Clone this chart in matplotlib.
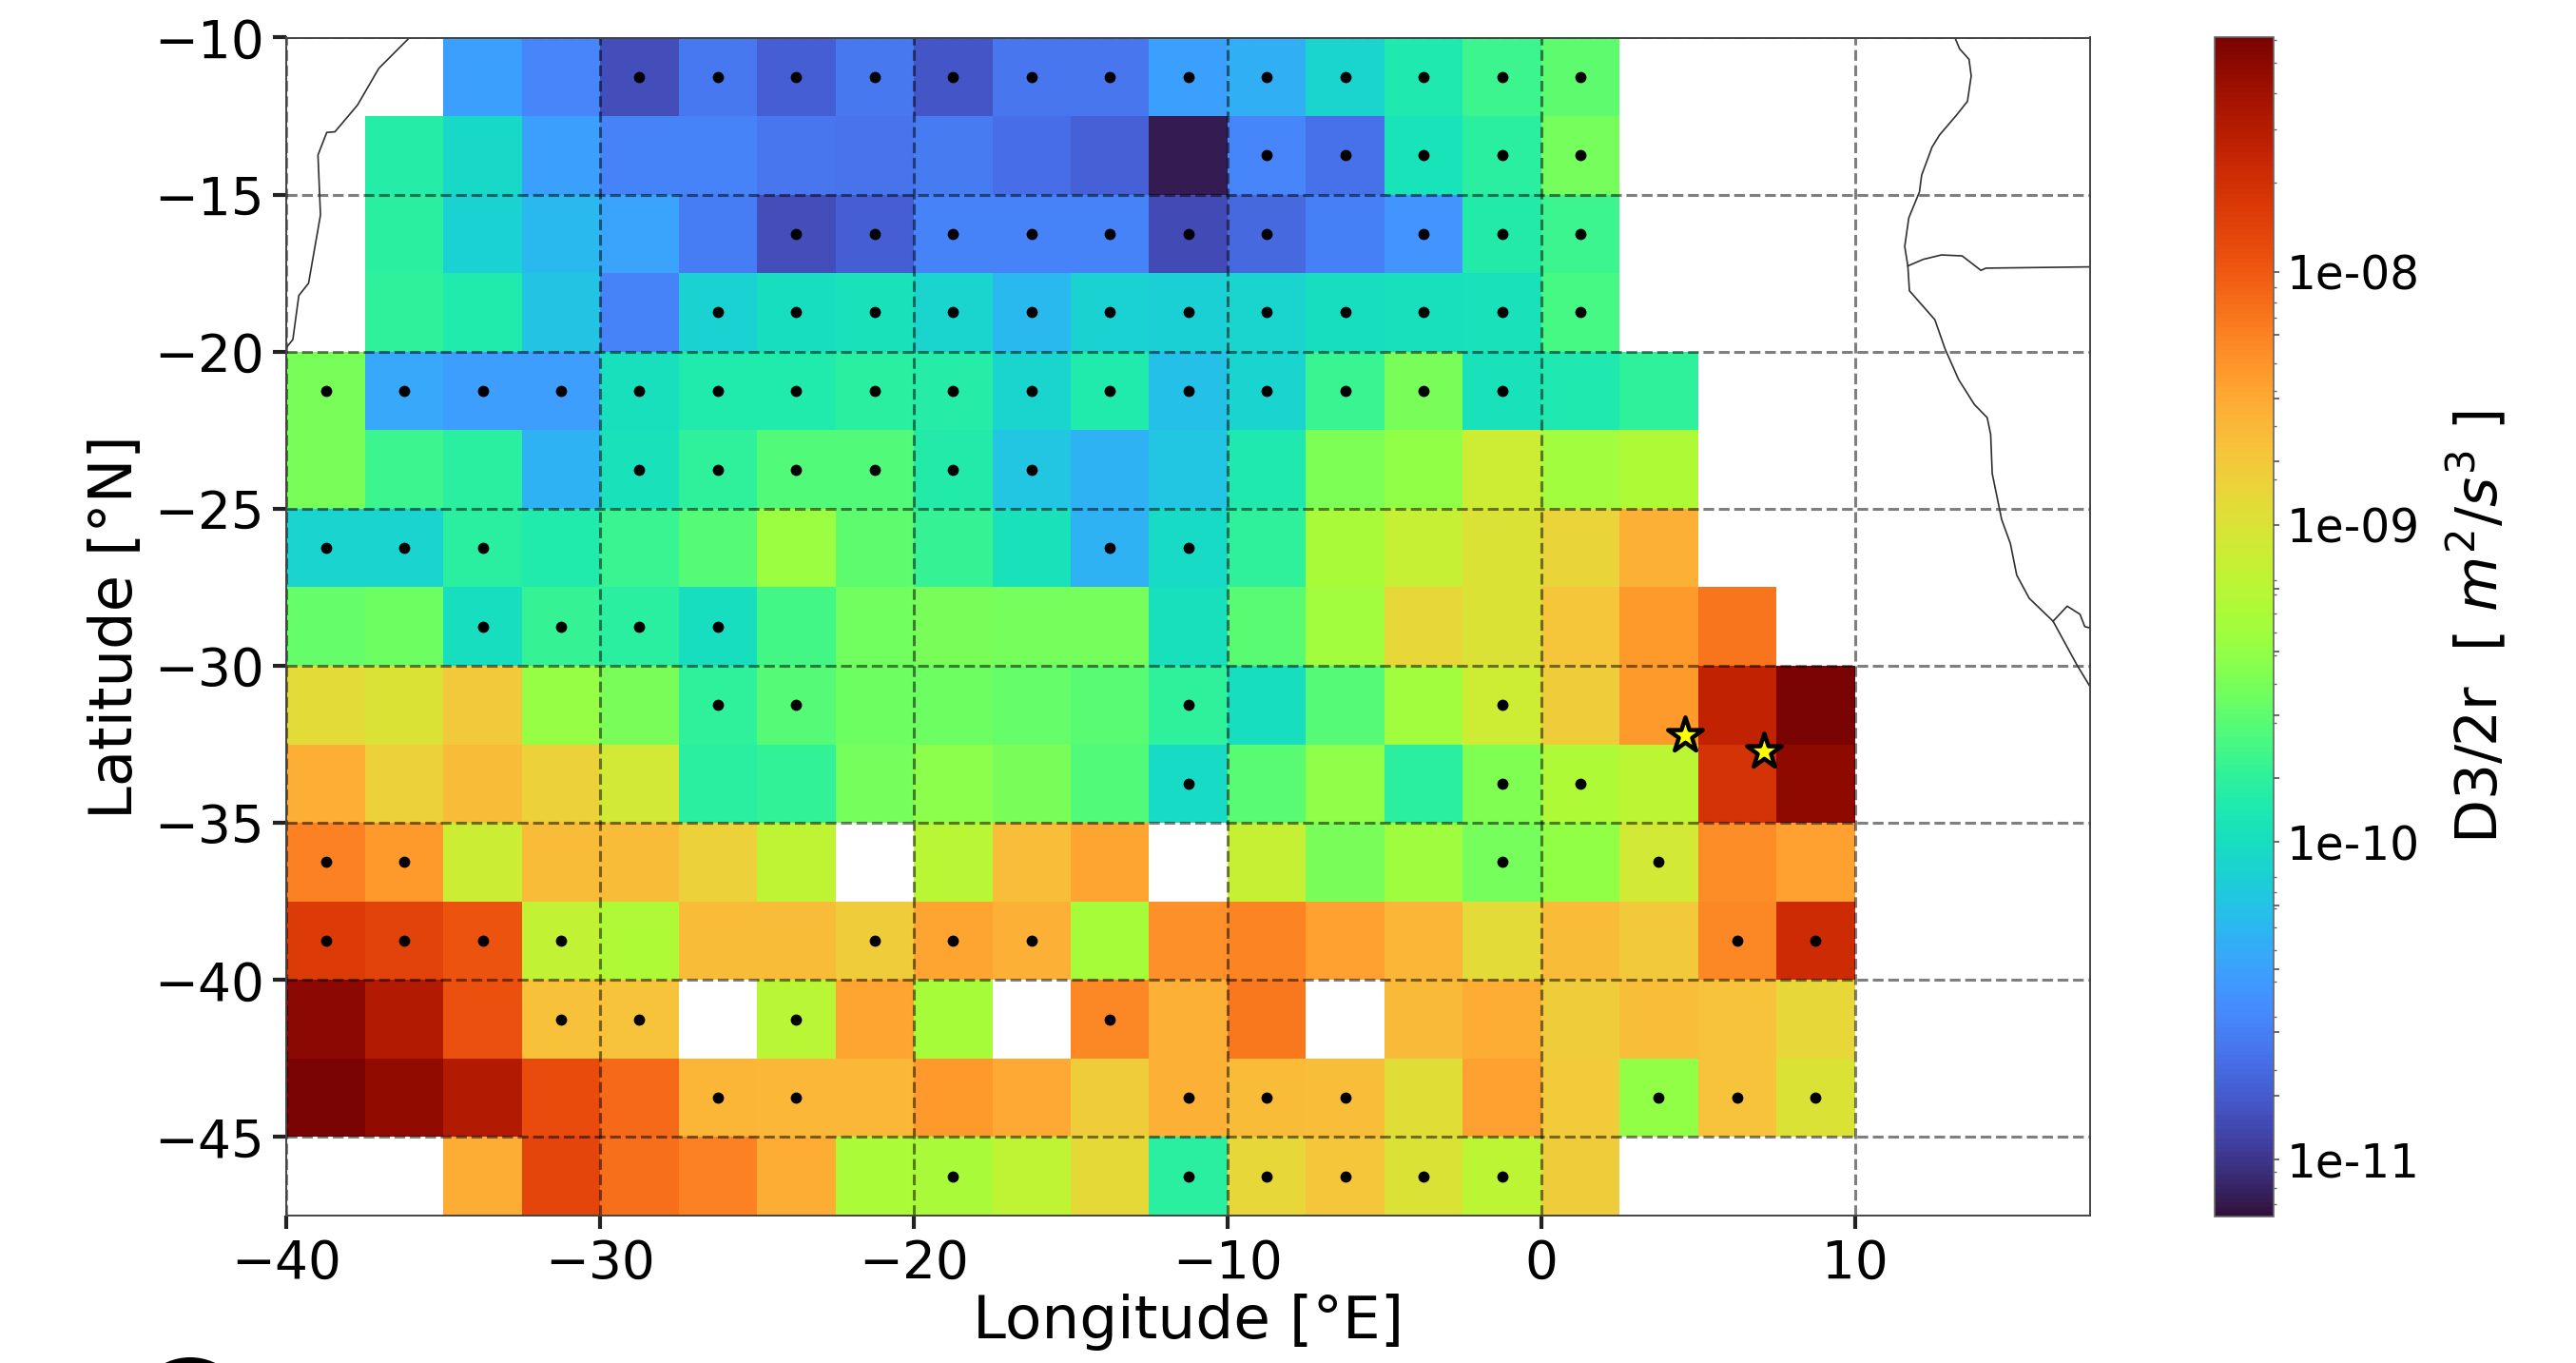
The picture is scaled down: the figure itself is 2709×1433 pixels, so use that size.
import numpy as np
import matplotlib
matplotlib.use("Agg")
import matplotlib.pyplot as plt
from matplotlib.colors import FuncNorm
from matplotlib.patches import Circle
from matplotlib.transforms import IdentityTransform

n = np.nan
# cell edges
lon_edges = np.arange(-40, 10.01, 2.5)
lat_edges = np.arange(-10, -47.51, -2.5)

# log10 of D3/2r, rows north to south, columns west to east
log_d = np.array([
 [n,n,-10.41,-10.56,-10.87,-10.63,-10.78,-10.63,-10.82,-10.65,-10.65,-10.41,-10.32,-10.07,-9.9,-9.73,-9.61,n,n,n],
 [n,-9.85,-10.04,-10.41,-10.58,-10.58,-10.65,-10.67,-10.62,-10.69,-10.77,-11.13,-10.56,-10.68,-9.95,-9.83,-9.52,n,n,n],
 [n,-9.82,-10.1,-10.26,-10.39,-10.6,-10.87,-10.78,-10.58,-10.58,-10.58,-10.88,-10.73,-10.59,-10.48,-9.87,-9.73,n,n,n],
 [n,-9.79,-9.88,-10.2,-10.58,-10.1,-10.0,-9.97,-10.07,-10.26,-10.1,-10.12,-10.07,-10.0,-9.99,-9.97,-9.69,n,n,n],
 [-9.5,-10.36,-10.42,-10.42,-9.98,-9.88,-9.88,-9.82,-9.85,-10.07,-9.88,-10.22,-10.09,-9.75,-9.5,-9.97,-9.9,-9.79,n,n],
 [-9.5,-9.73,-9.83,-10.3,-9.97,-9.79,-9.65,-9.65,-9.87,-10.18,-10.3,-10.19,-9.9,-9.49,-9.4,-9.08,-9.33,-9.25,n,n],
 [-10.09,-10.09,-9.83,-9.88,-9.75,-9.63,-9.36,-9.6,-9.77,-9.97,-10.3,-10.03,-9.79,-9.28,-9.12,-9.0,-8.86,-8.55,n,n],
 [-9.57,-9.55,-10.0,-9.77,-9.83,-10.0,-9.71,-9.53,-9.5,-9.52,-9.52,-9.98,-9.62,-9.33,-8.88,-9.0,-8.72,-8.39,-8.17,n],
 [-8.92,-9.0,-8.76,-9.38,-9.51,-9.8,-9.63,-9.55,-9.55,-9.58,-9.62,-9.8,-10.0,-9.63,-9.33,-9.08,-8.8,-8.39,-7.52,-7.08],
 [-8.54,-8.82,-8.64,-8.82,-9.05,-9.83,-9.78,-9.52,-9.43,-9.5,-9.65,-10.02,-9.62,-9.42,-9.83,-9.48,-9.25,-9.18,-7.68,-7.2],
 [-8.25,-8.39,-9.1,-8.64,-8.64,-8.82,-9.17,n,-9.2,-8.67,-8.47,n,-9.13,-9.5,-9.34,-9.52,-9.4,-9.05,-8.32,-8.44],
 [-7.75,-7.83,-7.95,-9.15,-9.25,-8.64,-8.64,-8.8,-8.47,-8.56,-9.3,-8.34,-8.26,-8.44,-8.6,-8.92,-8.64,-8.75,-8.29,-7.62],
 [-7.18,-7.42,-7.93,-8.69,-8.7,n,-9.2,-8.47,-9.3,n,-8.28,-8.55,-8.2,n,-8.62,-8.52,-8.79,-8.66,-8.7,-8.89],
 [-7.08,-7.22,-7.42,-7.9,-8.1,-8.59,-8.61,-8.61,-8.39,-8.5,-8.8,-8.56,-8.64,-8.67,-8.94,-8.44,-8.78,-9.4,-8.7,-9.0],
 [n,n,-8.52,-7.85,-8.13,-8.24,-8.52,-9.27,-9.28,-9.17,-8.91,-9.83,-8.88,-8.72,-9.0,-9.18,-8.8,n,n,n],
])

# significance dots: columns per row
dot_cols = [
 [4,5,6,7,8,9,10,11,12,13,14,15,16],
 [12,13,14,15,16],
 [6,7,8,9,10,11,12,14,15,16],
 [5,6,7,8,9,10,11,12,13,14,15,16],
 [0,1,2,3,4,5,6,7,8,9,10,11,12,13,14,15],
 [4,5,6,7,8,9],
 [0,1,2,10,11],
 [2,3,4,5],
 [5,6,11,15],
 [11,15,16],
 [0,1,15,17],
 [0,1,2,3,7,8,9,18,19],
 [3,4,6,10],
 [5,6,11,12,13,17,18,19],
 [8,11,12,13,14,15],
]

star_lon = [4.59, 7.11]
star_lat = [-32.2, -32.71]

sa_lon = [-36.08,-37.06,-37.74,-38.46,-38.72,-39.0,-38.92,-39.30,-39.61,-39.8,-40]
sa_lat = [-10.0,-10.98,-12.15,-13.0,-13.02,-13.74,-15.65,-17.82,-18.21,-19.61,-19.86]
af_lon = [13.19,13.34,13.64,13.71,13.59,13.24,12.70,12.46,12.13,12.06,11.72,11.59,11.69,11.74,12.55,12.88,13.31,13.81,14.22,14.33,14.38,14.68,14.96,15.16,15.56,16.32,17.08,17.48]
af_lat = [-10.0,-10.36,-10.69,-11.22,-12.03,-12.47,-13.10,-13.49,-14.38,-14.91,-15.74,-16.65,-17.27,-18.06,-18.98,-19.92,-20.89,-21.68,-22.10,-22.63,-23.88,-25.34,-26.11,-27.11,-27.85,-28.58,-29.97,-30.63]
b1_lon = [11.69,12.18,12.76,13.42,14.02,14.18,17.48]
b1_lat = [-17.27,-17.06,-16.92,-16.95,-17.41,-17.34,-17.30]
b2_lon = [16.32,16.77,17.18,17.33,17.48]
b2_lat = [-28.58,-28.10,-28.36,-28.75,-28.79]

# colorbar scale
scale_log = [-11.18, -11.0, -10.0, -9.0, -8.0, -7.08]
scale_pos = [0.0, 0.0484, 0.3177, 0.5863, 0.8010, 1.0]
cb_major = [-11.0,-10.8,-10.6,-10.4,-10.2,-10.0,-9.8,-9.6,-9.4,-9.2,-9.0,-8.75,-8.5,-8.25,-8.0]
cb_labels = {-11.0:'1e-11', -10.0:'1e-10', -9.0:'1e-09', -8.0:'1e-08'}
cb_minor = [-11.14,-11.09,-11.04,-10.72,-10.55,-10.44,-10.34,-10.27,-10.21,-10.16,-10.11,
            -9.625,-9.50,-9.41,-9.34,-9.28,-9.22,-9.174,-8.82,-8.61,-8.47,-8.36,-8.18,-8.12,-8.06,
            -7.65,-7.44,-7.30,-7.18,-7.09]

W, H = 2709, 1433
fig = plt.figure(figsize=(W/100, H/100), dpi=100, facecolor='white')
ax = fig.add_axes([301.4/W, (H-1278)/H, (2198-301.4)/W, (1278-39.5)/H])


def fwd(v):
    v = np.ma.filled(np.ma.asarray(v, dtype=float), np.nan)
    return np.interp(np.log10(v), scale_log, scale_pos)


def inv(t):
    t = np.ma.filled(np.ma.asarray(t, dtype=float), np.nan)
    return 10.0**np.interp(t, scale_pos, scale_log)


norm = FuncNorm((fwd, inv), vmin=10.0**scale_log[0], vmax=10.0**scale_log[-1])

D = np.ma.masked_invalid(10.0**log_d)
mesh = ax.pcolormesh(lon_edges, lat_edges, D, cmap='turbo', norm=norm,
                     antialiased=False, linewidth=0, zorder=1)

lon_c = (lon_edges[:-1] + lon_edges[1:]) / 2
lat_c = (lat_edges[:-1] + lat_edges[1:]) / 2
dx = [lon_c[c] for r, cols in enumerate(dot_cols) for c in cols]
dy = [lat_c[r] for r, cols in enumerate(dot_cols) for c in cols]
ax.scatter(dx, dy, s=72, c='k', linewidths=0, zorder=4)

for xs, ys in [(sa_lon, sa_lat), (af_lon, af_lat), (b1_lon, b1_lat), (b2_lon, b2_lat)]:
    ax.plot(xs, ys, color='#303030', lw=1.2, zorder=3)

ax.scatter(star_lon, star_lat, marker='*', s=760, c='yellow', edgecolors='k',
           linewidths=3.2, zorder=5)

ax.set_xlim(-40, 17.5)
ax.set_ylim(-47.5, -10)
ax.set_xticks(np.arange(-40, 11, 10))
ax.set_yticks(np.arange(-45, -9, 5))
ax.set_axisbelow(False)
ax.grid(True, color='k', alpha=0.5, ls='--', lw=2.2)
ax.tick_params(axis='both', labelsize=39.5, length=10, width=3, pad=7, color='#222222')
for s in ax.spines.values():
    s.set_linewidth(1.4)
    s.set_color('#444444')
    s.set_zorder(6)
ax.set_xlabel('Longitude [°E]', fontsize=45.3, labelpad=3)
ax.set_ylabel('Latitude [°N]', fontsize=45, labelpad=7)

cax = fig.add_axes([2329/W, (H-1279)/H, 62/W, 1240/H])
cb = fig.colorbar(mesh, cax=cax)
cb.set_ticks([10.0**v for v in cb_major],
             labels=[cb_labels.get(v, '') for v in cb_major])
cax.yaxis.set_ticks([10.0**v for v in cb_minor], minor=True)
cax.tick_params(axis='y', which='major', labelsize=35, length=4.5, width=1.1, pad=5, color='#444444')
cax.tick_params(axis='y', which='minor', length=2.5, width=1.0, color='#666666')
cb.outline.set_linewidth(1.2)
cb.outline.set_edgecolor('#666666')
cb.set_label(r'D3/2r  [ $m^2/s^3$ ]', fontsize=43, labelpad=20)

fig.add_artist(Circle((200, H-1488), 61, transform=IdentityTransform(), color='k', lw=0))

fig.savefig('out.png', dpi=100, facecolor='white')
